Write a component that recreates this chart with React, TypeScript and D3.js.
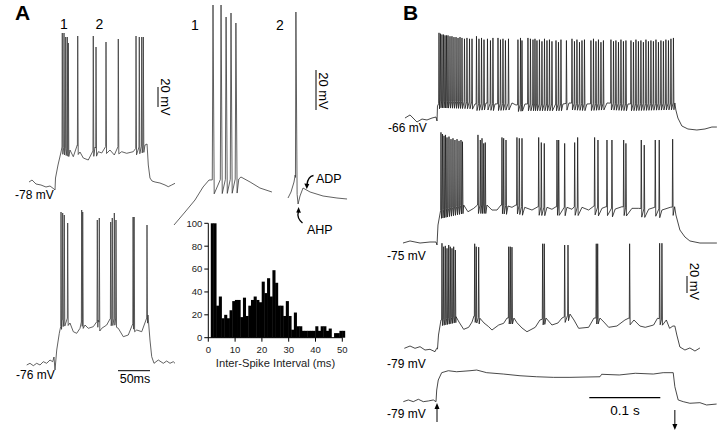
import React from 'react';
import * as d3 from 'd3';

type Pt = [number, number];

// ---------- Panel A, left: compressed traces (t in ms from step onset, v in mV) ----------
const A_TOP_BASE: Pt[] = [
  [-40.6, -77], [-35.9, -75], [-29.7, -79], [-21.9, -80], [-14.1, -82], [-7.8, -81], [-1.6, -84], [0, -85],
  [0.8, -73], [4.7, -60], [9.4, -47], [10.9, -42], [23.4, -45], [28.6, -51.7], [34.8, -40], [39, -47],
  [44.2, -53], [52, -55], [62.5, -42], [67.7, -46.7], [73, -48], [79.7, -41], [85.9, -45], [92.7, -50],
  [98.9, -41], [104.2, -46.7], [112, -48.3], [122.3, -46.7], [126.6, -43], [140.6, -40], [143.8, -39],
  [145.8, -60], [148.4, -73], [151.6, -76], [156.3, -77], [164, -78], [171.9, -80], [177, -81.7],
  [182.3, -80], [187.5, -78.3],
];
const A_TOP_SPIKES: Pt[] = [
  [11.4, 72], [14.1, 72], [16.7, 68], [19.2, 68], [20.8, 62], [35.5, 69], [59.8, 69], [64.1, 58],
  [79.7, 63], [98.9, 66], [126.6, 69], [131.7, 68], [135.5, 68], [138, 68],
];
const A_BOT_BASE: Pt[] = [
  [-44.2, -77], [-39.1, -75.3], [-33.9, -77.7], [-28.6, -75.3], [-23.4, -77], [-18.3, -73.7], [-13, -75.3],
  [-7.8, -72], [-3.6, -73.7], [-1.6, -69], [0, -82], [2.7, -62], [6.7, -45.3], [9.4, -37], [10.9, -32],
  [20.3, -30], [23.4, -35], [28.6, -43.7], [33.9, -45.3], [39.1, -40.3], [42.2, -31], [46.9, -37],
  [52, -40.3], [59.8, -38.7], [67.2, -32], [73, -40.3], [80.8, -37], [85.9, -31], [95.3, -30],
  [98.9, -40.3], [106.7, -48.7], [114.5, -47], [122.7, -34], [127.7, -42], [135.5, -43.7], [143.3, -30],
  [145.3, -27], [148.4, -52], [151.1, -68.7], [154.7, -75.3], [161.4, -72], [169.2, -75.3], [174.5, -73],
  [179.7, -75.3], [184.8, -73.7], [187.5, -75.3],
];
const A_BOT_SPIKES: Pt[] = [
  [9.4, 76], [12, 75], [14.5, 73], [19.8, 65], [41.7, 78], [43.3, 76], [66.1, 68], [69.2, 70],
  [87, 66], [89.5, 70], [92.7, 75], [95.3, 68], [122, 71], [123.6, 71], [143.75, 63],
];

// ---------- Panel A, middle: expanded views "1" and "2" ----------
const M1_BASE: Pt[] = [
  [0, -66], [4.6, -59.5], [8.75, -53.5], [12.1, -47], [14.6, -43.5], [27, -43], [27.9, -42],
  [31.7, -44.5], [35.8, -47.5], [40.8, -49.5],
];
const M1_SPIKES: Pt[] = [[16.25, 44], [19.6, 44], [21.7, 38], [23.75, 40], [25.8, 35]];
const M2_BASE: Pt[] = [
  [0, -52.5], [1.25, -49.5], [2.5, -44.5], [3.0, -41], [4.2, -55.5], [5, -51.5], [6.25, -47.5],
  [9.2, -49.5], [14.6, -51.5], [20.4, -52.5], [24.6, -53],
];
const M2_SPIKES: Pt[] = [[3.3, 40.5]];

// ---------- Panel A, histogram ----------
const ISI_BIN_STARTS = d3.range(1, 51);
const ISI_COUNTS = [
  100, 100, 28, 36, 17, 20, 17, 24, 32, 33, 33, 18, 35, 19, 28, 33, 36, 33, 31, 49,
  39, 52, 36, 59, 48, 28, 28, 19, 32, 19, 7, 22, 10, 10, 6, 6, 6, 6, 6, 10,
  6, 10, 10, 6, 8, 0, 4, 4, 6, 6,
];
const HIST_Y_TICKS = [0, 20, 40, 60, 80, 100];
const HIST_X_TICKS = [0, 10, 20, 30, 40, 50];

// ---------- Panel B ----------
const B1_BASE: Pt[] = [
  [-45.1, -67.2], [-38, -63.6], [-28.2, -71.9], [-21.1, -68.4], [-14.1, -69.5], [-7, -67.2], [-1.4, -66],
  [0, -70.7], [0.7, -53.1], [4.2, -47.2], [49.3, -48.4], [53.5, -50.7], [69, -49.5], [81.7, -50.7],
  [105.6, -49.5], [111.2, -51.9], [123.9, -50.7], [177.4, -50.7], [185.9, -49.5], [211.2, -50.7],
  [239.4, -49.5], [269, -50.7], [335, -49.5], [336.4, -57.8], [339.3, -67.2], [344.9, -76.6],
  [353.4, -80.1], [366, -81.3], [377.4, -80.1], [387.2, -77.8], [394.2, -77.8],
];
const B1_SPIKES: Pt[] = [
  [2.8, 33], [4.9, 32], [7.0, 31], [9.2, 31], [11.3, 30], [13.4, 30], [15.5, 30], [18.3, 29], [21.1, 29],
  [23.9, 28], [26.8, 28], [29.6, 27], [32.4, 28], [35.2, 27], [38.7, 26], [42.2, 27], [45.8, 26], [49.3, 26],
  [55.6, 29], [59.1, 26], [62.7, 27], [66.2, 25],
  [71.1, 26], [75.3, 24], [78.8, 27],
  [85.9, 27], [89.4, 25], [92.9, 26], [96.4, 24], [100.7, 26],
  [114.0, 25], [117.6, 27], [119.7, 24],
  [128.1, 27], [131.6, 26], [135.2, 25], [138.0, 26], [140.8, 24], [144.3, 25], [147.8, 23], [151.4, 26],
  [154.9, 24], [158.4, 25], [161.9, 23], [167.6, 24], [171.1, 22], [174.6, 25],
  [182.3, 24],
  [190.1, 26], [193.6, 23], [197.1, 25], [200.7, 22], [204.2, 24], [207.7, 25],
  [216.8, 24], [220.4, 26], [223.9, 23], [227.4, 25], [230.9, 22], [234.4, 24],
  [245.0, 25], [248.6, 23], [252.0, 24], [255.6, 22], [259.1, 25], [262.6, 23], [266.1, 24],
  [273.2, 24], [276.7, 22], [280.2, 25], [283.7, 23], [287.2, 24], [290.7, 22], [294.3, 25], [297.8, 23],
  [301.3, 24], [304.8, 23], [308.4, 25], [311.9, 22], [315.4, 24], [318.9, 23], [322.4, 25], [326.0, 24],
  [329.5, 26], [333.0, 27],
];
const B2_BASE: Pt[] = [
  [-47.9, -76.2], [-38, -73.8], [-23.9, -76.2], [-9.9, -75], [-1.4, -75], [0, -78.5], [1.4, -55], [5.2, -37.4],
  [37.6, -31.5], [43.6, -39.4], [51.7, -35.4], [57.0, -31.5], [70.4, -31.5], [77.4, -37.4], [84.5, -37.4],
  [90.1, -31.5], [100, -32.7], [105.6, -34.2], [111.2, -31.5], [123.5, -34.2], [133.8, -37.4],
  [142.2, -33.5], [154.9, -34.2], [161.9, -36.5], [167.6, -33.5], [183, -34.2], [190.1, -36.5],
  [193.2, -33.5], [204.2, -34.2], [213.6, -37.4], [221.0, -32.7], [232.3, -35.4], [238, -33.5],
  [251, -36.2], [260.5, -33.5], [274.6, -35.4], [284, -35.4], [298.1, -36.5], [306.5, -34.2],
  [316.8, -37.4], [328.5, -34.2], [334.7, -33.5], [336.5, -43.2], [342.1, -60.9], [349.2, -69.1],
  [356.2, -73.8], [370.3, -76.2], [394.2, -76.2],
];
const B2_SPIKES: Pt[] = [
  [5.6, 54], [7.7, 52], [9.9, 50], [12, 51], [14.1, 48], [16.9, 49], [19.7, 46], [22.5, 47], [25.3, 45],
  [28.2, 46], [31, 44], [33.8, 45], [35.9, 43],
  [57.7, 51], [61, 45], [63.4, 47], [65.8, 41], [68, 42],
  [91.5, 48], [93.9, 47], [97.2, 45],
  [112.6, 48], [115.9, 47], [119.7, 47],
  [143.2, 48], [146.9, 42], [151.1, 41],
  [169, 45], [171.4, 45], [179.8, 41],
  [193.9, 42], [198.1, 48],
  [222, 48], [226.7, 45],
  [239.4, 45], [246.4, 45],
  [262.9, 45], [266.1, 41],
  [287.7, 45], [291.9, 39],
  [307.4, 45], [313, 45],
  [331.9, 46],
];
const B3_BASE: Pt[] = [
  [-46, -77], [-38, -74.3], [-31, -77], [-23.9, -75.1], [-16.9, -79], [-9.9, -78.2], [-2.8, -81], [-0.4, -77],
  [0.7, -77.8], [2.1, -61.4], [5.6, -43.7], [26.8, -39.8], [31, -46.1], [37.6, -54.7], [44.6, -52.3],
  [49.3, -46.1], [52.1, -39], [60.5, -41.7], [66.2, -47.2], [72.8, -51.6], [77.4, -55.5], [86.9, -49.6],
  [93.9, -47.6], [98.6, -41.4], [108.4, -41.4], [112.6, -46.9], [119.7, -53.1], [126.7, -57.5],
  [138.4, -52.3], [145, -43.7], [153.5, -41.4], [161.9, -49.6], [170.4, -47.2], [176, -41.4],
  [187.3, -36.7], [192.9, -43.7], [199.5, -53.5], [213.6, -52.3], [221.1, -41.4], [229.5, -41.4],
  [235.1, -46.1], [241.8, -52.3], [253.4, -50.8], [264.7, -43.7], [269.6, -41.7], [277.4, -43.7],
  [285.8, -50.8], [293.3, -52.3], [305.1, -49.6], [310.5, -41.7], [323, -43.7], [327.6, -53.5],
  [332.3, -50.8], [335, -50.8], [337.8, -61.4], [342.1, -75.5], [349.2, -79], [356.2, -76.6],
  [363.3, -80.2], [370.3, -76.6],
];
const B3_SPIKES: Pt[] = [
  [7, 46.6], [9.4, 42.5], [11.7, 43.5], [14.1, 40.6], [16.5, 44.5], [18.7, 42.5], [21.1, 40.6], [23.5, 42.5],
  [25.8, 38.6],
  [53.1, 46], [55.3, 42.5], [58.7, 42],
  [101, 42.5], [103.2, 42.5], [105.6, 42],
  [148.8, 46], [151.1, 46],
  [179.8, 44.5], [184.5, 44.5],
  [224.3, 46], [226.3, 46],
  [271.3, 46],
  [313.6, 46.6], [316.8, 46.6],
];
const B4_BASE: Pt[] = [
  [-47.4, -78.6], [-40.4, -76.6], [-33.4, -78.6], [-26.3, -75.8], [-19.3, -78.6], [-12.2, -77.8],
  [-5.2, -76.6], [-1.4, -78.6], [-0.4, -64.9], [1.8, -53.1], [6.6, -44.5], [15.9, -42.2], [27.7, -43.4],
  [46.5, -42.2], [55.9, -41.4], [70, -44.5], [93.4, -46.1], [116.9, -48.1], [140.4, -49.3],
  [163.8, -50], [187.3, -50], [229.5, -49.3], [231.9, -46.4], [256.7, -47.2], [279.3, -45.2],
  [304.6, -46.1], [318.6, -44.5], [332.7, -44.5], [335, -61], [339.7, -76.6], [346.8, -78.6],
  [356.2, -80.5], [370.3, -79.8], [379.7, -82.5], [393.8, -81.4],
];
const B_STEP_ON = 0;
const B_STEP_OFF = 335;

type Opts = { w1: number; w2: number; ahp: number };

function buildTrace(base: Pt[], spikes: Pt[], o: Opts): Pt[] {
  const bs = d3
    .scaleLinear()
    .domain(base.map((d) => d[0]))
    .range(base.map((d) => d[1]))
    .clamp(true);
  const pts: Pt[] = [];
  for (const [t, v] of base) {
    if (spikes.some(([s]) => t > s - o.w1 - 0.05 && t < s + o.w2 + 0.05)) continue;
    pts.push([t, v]);
  }
  for (const [s, peak] of spikes) {
    pts.push([s - o.w1, bs(s - o.w1)]);
    pts.push([s, peak]);
    pts.push([s + o.w2, bs(s + o.w2) - o.ahp]);
  }
  pts.sort((a, b) => a[0] - b[0]);
  return pts;
}

function tracePath(
  pts: Pt[],
  x: d3.ScaleLinear<number, number>,
  y: d3.ScaleLinear<number, number>
): string {
  return (
    d3
      .line<Pt>()
      .x((d) => x(d[0]))
      .y((d) => y(d[1]))(pts) || ''
  );
}

const FONT = "'Liberation Sans', Arial, Helvetica, sans-serif";

export default function App() {
  // scales
  const xA = d3.scaleLinear().domain([0, 50]).range([55, 87]);
  const yA1 = d3.scaleLinear().domain([-78, -58]).range([183, 163]);
  const yA2 = d3.scaleLinear().domain([-76, -56]).range([364, 344]);
  const xM1 = d3.scaleLinear().domain([0, 10]).range([174, 198]);
  const xM2 = d3.scaleLinear().domain([0, 10]).range([288, 312]);
  const yM = d3.scaleLinear().domain([-50, -30]).range([193, 153]);
  const xB = d3.scaleLinear().domain([0, 100]).range([437, 508]);
  const yB1 = d3.scaleLinear().domain([-66, -46]).range([117, 100]);
  const yB2 = d3.scaleLinear().domain([-75, -55]).range([242, 225]);
  const yB3 = d3.scaleLinear().domain([-79, -59]).range([350, 333]);
  const yB4 = d3.scaleLinear().domain([-79, -59]).range([402, 385]);
  const hx = d3.scaleLinear().domain([0, 50]).range([208.3, 342.3]);
  const hy = d3.scaleLinear().domain([0, 100]).range([337.7, 223.3]);

  const optsA: Opts = { w1: 0.5, w2: 0.8, ahp: 7 };
  const optsB1: Opts = { w1: 0.5, w2: 0.7, ahp: 8 };
  const optsB2: Opts = { w1: 0.5, w2: 0.7, ahp: 10 };
  const optsB3: Opts = { w1: 0.5, w2: 0.7, ahp: 7 };

  const pA1 = tracePath(buildTrace(A_TOP_BASE, A_TOP_SPIKES, optsA), xA, yA1);
  const pA2 = tracePath(buildTrace(A_BOT_BASE, A_BOT_SPIKES, optsA), xA, yA2);
  const pM1 = tracePath(buildTrace(M1_BASE, M1_SPIKES, { w1: 0.3, w2: 0.5, ahp: 7 }), xM1, yM);
  const pM2 = tracePath(buildTrace(M2_BASE, M2_SPIKES, { w1: 0.2, w2: 0.5, ahp: 0 }), xM2, yM);
  const pB1 = tracePath(buildTrace(B1_BASE, B1_SPIKES, optsB1), xB, yB1);
  const pB2 = tracePath(buildTrace(B2_BASE, B2_SPIKES, optsB2), xB, yB2);
  const pB3 = tracePath(buildTrace(B3_BASE, B3_SPIKES, optsB3), xB, yB3);
  const pB4 = tracePath(buildTrace(B4_BASE, [], optsB3), xB, yB4);

  const mvA = yA1(-78) - yA1(-58); // 20 mV
  const mvM = yM(-50) - yM(-30);
  const mvB = yB2(-75) - yB2(-55);
  const ms50 = xA(50) - xA(0);
  const s01 = xB(100) - xB(0);

  const traceA = { fill: 'none', stroke: '#3a3a3a', strokeWidth: 0.8, strokeLinejoin: 'round' as const };
  const traceB = { fill: 'none', stroke: '#1a1a1a', strokeWidth: 0.8, strokeLinejoin: 'round' as const };

  const xOn = xB(B_STEP_ON);
  const xOff = xB(B_STEP_OFF);

  return (
    <svg
      width={720}
      height={435}
      style={{ position: 'absolute', left: 0, top: 0, background: '#fff' }}
      fontFamily={FONT}
    >
      <rect x={0} y={0} width={720} height={435} fill="#fff" />

      {/* Panel labels */}
      <text x={15} y={19.5} fontSize={21} fontWeight="bold">A</text>
      <text x={403} y={20} fontSize={21} fontWeight="bold">B</text>

      {/* Panel A left traces */}
      <path d={pA1} {...traceA} />
      <path d={pA2} {...traceA} />
      <text x={64} y={28.5} fontSize={14} textAnchor="middle">1</text>
      <text x={99.5} y={28.5} fontSize={14} textAnchor="middle">2</text>
      <text x={15} y={199} fontSize={12}>-78 mV</text>
      <text x={16} y={379} fontSize={12}>-76 mV</text>
      <line x1={158} x2={158} y1={107} y2={107 - mvA} stroke="#000" strokeWidth={1} />
      <text transform={`translate(160.5,97) rotate(90)`} fontSize={13} textAnchor="middle">20 mV</text>
      <line x1={118} x2={118 + ms50} y1={370.7} y2={370.7} stroke="#000" strokeWidth={1} />
      <text x={135} y={383} fontSize={12.5} textAnchor="middle">50ms</text>

      {/* Panel A middle expanded traces */}
      <path d={pM1} {...traceA} />
      <path d={pM2} {...traceA} />
      <text x={195} y={30} fontSize={14} textAnchor="middle">1</text>
      <text x={280} y={30} fontSize={14} textAnchor="middle">2</text>
      <line x1={316} x2={316} y1={110} y2={110 - mvM} stroke="#000" strokeWidth={1} />
      <text transform={`translate(318.5,91) rotate(90)`} fontSize={13} textAnchor="middle">20 mV</text>
      <text x={316} y={182.5} fontSize={12.5}>ADP</text>
      <path d="M313.5,175.5 Q308,176.5 307,184.5" fill="none" stroke="#000" strokeWidth={1.3} />
      <polygon points="306.8,189 304.3,183.5 309.3,184" fill="#000" />
      <text x={307} y={233.5} fontSize={12.5}>AHP</text>
      <path d="M302.5,223 Q296.5,218 298.4,211.5" fill="none" stroke="#000" strokeWidth={1.3} />
      <polygon points="298.6,207 296.2,212.5 300.9,212.7" fill="#000" />

      {/* Histogram */}
      <g>
        {ISI_BIN_STARTS.map((b, i) => {
          const c = Math.min(ISI_COUNTS[i], 100);
          const y = hy(c);
          return (
            <rect
              key={b}
              x={hx(b) - 0.2}
              y={y}
              width={hx(b + 1) - hx(b) + 0.4}
              height={hy(0) - y}
              fill="#000"
            />
          );
        })}
        <line x1={hx(0)} x2={hx(0)} y1={hy(0)} y2={hy(100)} stroke="#000" strokeWidth={1} />
        <line x1={hx(0)} x2={hx(50)} y1={hy(0)} y2={hy(0)} stroke="#000" strokeWidth={1} />
        {HIST_Y_TICKS.map((t) => (
          <g key={'y' + t}>
            <line x1={hx(0) - 4} x2={hx(0)} y1={hy(t)} y2={hy(t)} stroke="#000" strokeWidth={1} />
            <text x={hx(0) - 6} y={hy(t) + 3.4} fontSize={9.5} textAnchor="end" fill="#222">
              {t}
            </text>
          </g>
        ))}
        {HIST_X_TICKS.map((t) => (
          <g key={'x' + t}>
            <line x1={hx(t)} x2={hx(t)} y1={hy(0)} y2={hy(0) + 4} stroke="#000" strokeWidth={1} />
            <text x={hx(t)} y={353} fontSize={9.5} textAnchor="middle" fill="#222">
              {t}
            </text>
          </g>
        ))}
        <text x={275.5} y={367} fontSize={11.2} textAnchor="middle" fill="#222">
          Inter-Spike Interval (ms)
        </text>
      </g>

      {/* Panel B traces */}
      <path d={pB1} {...traceB} />
      <path d={pB2} {...traceB} />
      <path d={pB3} {...traceB} />
      <path d={pB4} {...traceB} />
      <text x={388} y={131.5} fontSize={12}>-66 mV</text>
      <text x={387} y={259.5} fontSize={12}>-75 mV</text>
      <text x={387} y={367.5} fontSize={12}>-79 mV</text>
      <text x={387} y={417.5} fontSize={12}>-79 mV</text>
      <line x1={687} x2={687} y1={293} y2={293 - mvB} stroke="#000" strokeWidth={1} />
      <text transform={`translate(690,281.5) rotate(90)`} fontSize={13} textAnchor="middle">20 mV</text>
      <line x1={589.3} x2={589.3 + s01} y1={397.7} y2={397.7} stroke="#000" strokeWidth={1.2} />
      <text x={625} y={414.5} fontSize={13.5} textAnchor="middle">0.1 s</text>
      {/* stimulus on/off arrows */}
      <line x1={xOn} x2={xOn} y1={422} y2={407} stroke="#000" strokeWidth={1} />
      <polygon points={`${xOn},403 ${xOn - 2.5},409 ${xOn + 2.5},409`} fill="#000" />
      <line x1={xOff} x2={xOff} y1={410} y2={426} stroke="#000" strokeWidth={1} />
      <polygon points={`${xOff},430 ${xOff - 2.5},424 ${xOff + 2.5},424`} fill="#000" />
    </svg>
  );
}
